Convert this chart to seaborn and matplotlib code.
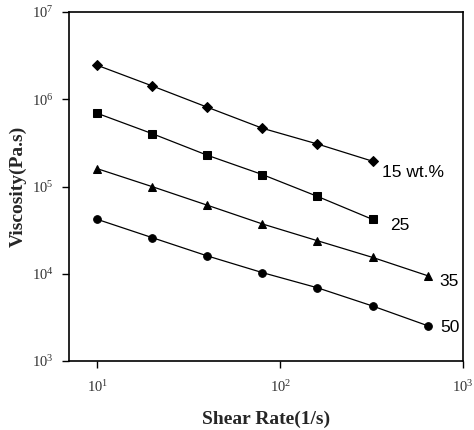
import matplotlib
matplotlib.use("Agg")
import matplotlib.pyplot as plt
import seaborn as sns
import pandas as pd
import numpy as np

# Data
shear_rate = [10, 20, 40, 80, 160, 320, 640]
visc_15 = [2.45e6, 1.42e6, 8.1e5, 4.65e5, 3.07e5, 1.95e5]
visc_25 = [6.9e5, 4.03e5, 2.28e5, 1.37e5, 7.7e4, 4.2e4]
visc_35 = [1.60e5, 9.95e4, 6.1e4, 3.72e4, 2.39e4, 1.54e4, 9.5e3]
visc_50 = [4.2e4, 2.59e4, 1.60e4, 1.03e4, 6.9e3, 4.27e3, 2.54e3]
series_names = ["15 wt.%", "25", "35", "50"]
x_ticks = [10, 100, 1000]
x_tick_labels = [r"$10^{1}$", r"$10^{2}$", r"$10^{3}$"]
y_ticks = [1e3, 1e4, 1e5, 1e6, 1e7]
y_tick_labels = [r"$10^{3}$", r"$10^{4}$", r"$10^{5}$", r"$10^{6}$", r"$10^{7}$"]

sns.set_theme(style="ticks")
plt.rcParams["font.family"] = ["Liberation Serif", "DejaVu Serif"]
plt.rcParams["mathtext.fontset"] = "custom"
plt.rcParams["mathtext.rm"] = "Liberation Serif"
plt.rcParams["mathtext.it"] = "Liberation Serif"

rows = []
for name, vals in zip(series_names, [visc_15, visc_25, visc_35, visc_50]):
    for x, v in zip(shear_rate, vals):
        rows.append({"Shear": x, "Visc": v, "Conc": name})
df = pd.DataFrame(rows)

fig = plt.figure(figsize=(4.74, 4.30), dpi=100)
ax = fig.add_axes([0.1456, 0.1605, 0.8312, 0.8115])

sns.lineplot(data=df, x="Shear", y="Visc", hue="Conc", style="Conc",
             markers={"15 wt.%": "D", "25": "s", "35": "^", "50": "o"},
             dashes=False, palette=["black"] * 4, linewidth=0.9,
             markersize=5.5, markeredgecolor="black", legend=False, ax=ax)

ax.set_xscale("log")
ax.set_yscale("log")
ax.set_xlim(7.0, 1000)
ax.set_ylim(1e3, 1e7)
ax.set_xticks(x_ticks)
ax.set_xticklabels(x_tick_labels)
ax.set_yticks(y_ticks)
ax.set_yticklabels(y_tick_labels)
ax.minorticks_off()
ax.tick_params(axis="both", direction="out", length=5, width=1, labelsize=10.5,
               colors="black", labelcolor="#333333", pad=6)
ax.tick_params(axis="x", pad=8)
for s in ax.spines.values():
    s.set_linewidth(1.2)
    s.set_color("black")

ax.set_xlabel("Shear Rate(1/s)", fontsize=14, fontweight="bold", labelpad=11)
ax.set_ylabel("Viscosity(Pa.s)", fontsize=14, fontweight="bold", labelpad=4)

label_pos = {"15 wt.%": (360, 1.43e5), "25": (397, 3.6e4), "35": (747, 8.05e3), "50": (747, 2.39e3)}
for name in series_names:
    x, y = label_pos[name]
    ax.text(x, y, name, fontsize=12.5, family=["Liberation Sans", "DejaVu Sans"],
            color="black", va="center", ha="left")

fig.savefig("out.png", dpi=100)
